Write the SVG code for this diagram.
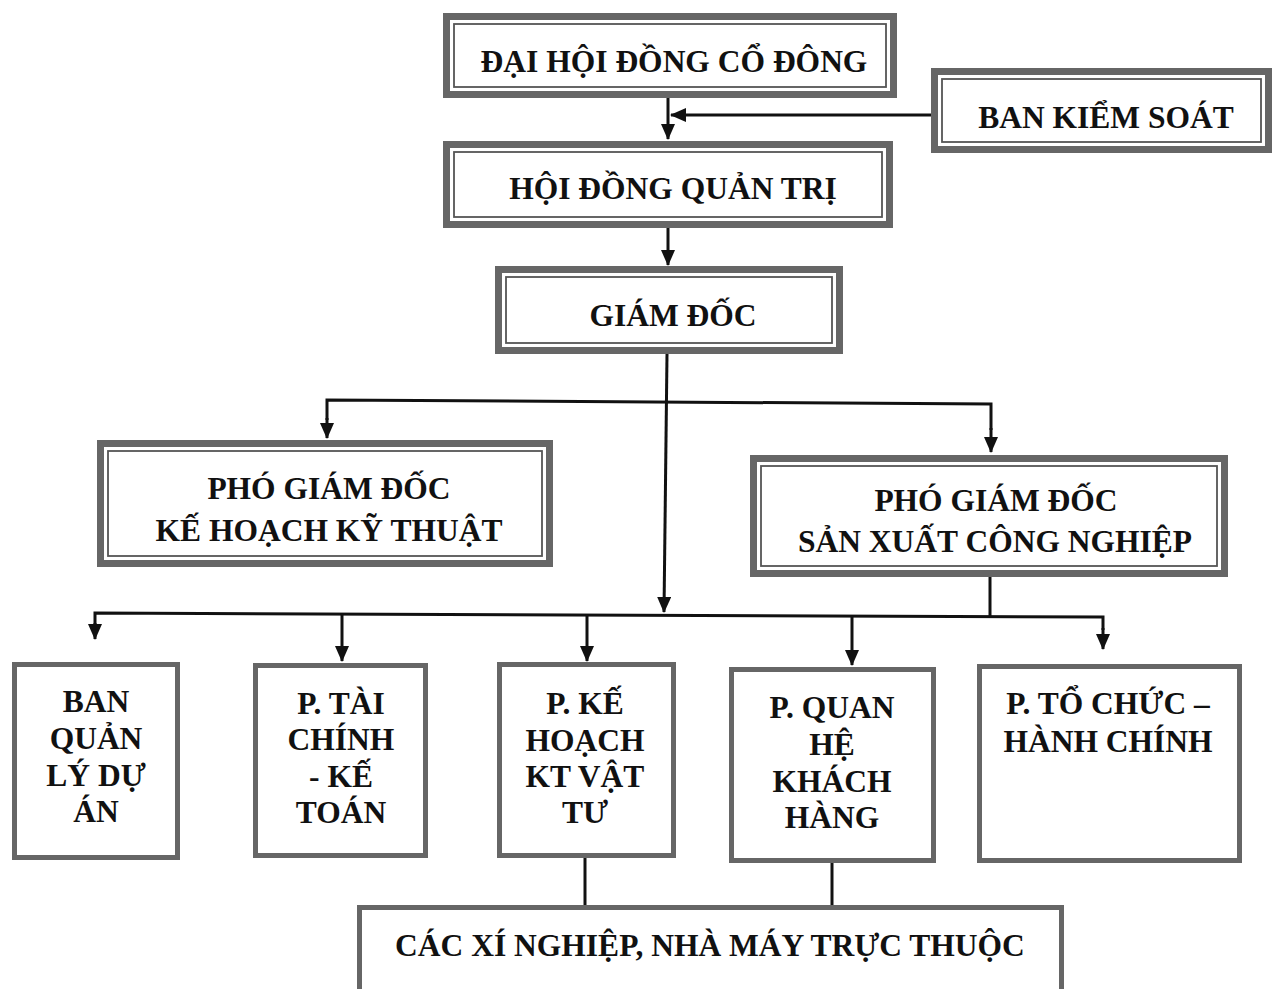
<svg xmlns="http://www.w3.org/2000/svg" width="1277" height="989" viewBox="0 0 1277 989">
<style>
.band{fill:#ffffff;stroke:#666666;stroke-width:7}
.inner{fill:none;stroke:#555555;stroke-width:1.8}
.single{fill:#ffffff;stroke:#666666;stroke-width:5}
.t{font-family:"Liberation Serif","Times New Roman",serif;font-weight:bold;font-size:31.5px;fill:#111111;text-anchor:middle}
.c{fill:none;stroke:#111111;stroke-width:3}
</style>
<defs>
<marker id="ah" viewBox="0 0 16 14" refX="15" refY="7" markerWidth="16" markerHeight="14" markerUnits="userSpaceOnUse" orient="auto">
<path d="M0,0 L16,7 L0,14 Z" fill="#111111"/>
</marker>
</defs>
<rect width="1277" height="989" fill="#ffffff"/>

<g id="connectors">
<line class="c" x1="668" y1="98" x2="668" y2="139" marker-end="url(#ah)"/>
<line class="c" x1="931" y1="115" x2="671" y2="115" marker-end="url(#ah)"/>
<line class="c" x1="668" y1="228" x2="668" y2="265" marker-end="url(#ah)"/>
<line class="c" x1="667" y1="354" x2="664" y2="612" marker-end="url(#ah)"/>
<polyline class="c" points="327,420 327,400 991,404 991,430"/>
<line class="c" x1="327" y1="418" x2="327" y2="438" marker-end="url(#ah)"/>
<line class="c" x1="991" y1="428" x2="991" y2="452" marker-end="url(#ah)"/>
<line class="c" x1="990" y1="577" x2="990" y2="616"/>
<polyline class="c" points="95,625 95,613 1103,617 1103,630"/>
<line class="c" x1="95" y1="623" x2="95" y2="639" marker-end="url(#ah)"/>
<line class="c" x1="342" y1="614" x2="342" y2="661" marker-end="url(#ah)"/>
<line class="c" x1="587" y1="615" x2="587" y2="661" marker-end="url(#ah)"/>
<line class="c" x1="852" y1="616" x2="852" y2="665" marker-end="url(#ah)"/>
<line class="c" x1="1103" y1="628" x2="1103" y2="649" marker-end="url(#ah)"/>
<line class="c" x1="585" y1="857" x2="585" y2="905"/>
<line class="c" x1="832" y1="862" x2="832" y2="905"/>
</g>

<g id="dai-hoi-dong-co-dong">
<rect class="band" x="446.5" y="16.5" width="447" height="78"/>
<rect class="inner" x="454" y="24" width="432" height="63"/>
<text class="t" x="674" y="72">ĐẠI HỘI ĐỒNG CỔ ĐÔNG</text>
</g>

<g id="ban-kiem-soat">
<rect class="band" x="934.5" y="71.5" width="334" height="78"/>
<rect class="inner" x="942" y="79" width="319" height="63"/>
<text class="t" x="1106" y="128">BAN KIỂM SOÁT</text>
</g>

<g id="hoi-dong-quan-tri">
<rect class="band" x="446.5" y="144.5" width="443" height="80"/>
<rect class="inner" x="454" y="152" width="428" height="65"/>
<text class="t" x="673" y="199">HỘI ĐỒNG QUẢN TRỊ</text>
</g>

<g id="giam-doc">
<rect class="band" x="498.5" y="269.5" width="341" height="81"/>
<rect class="inner" x="506" y="277" width="326" height="66"/>
<text class="t" x="673" y="326">GIÁM ĐỐC</text>
</g>

<g id="pho-giam-doc-ke-hoach-ky-thuat">
<rect class="band" x="100.5" y="443.5" width="449" height="120"/>
<rect class="inner" x="108" y="451" width="434" height="105"/>
<text class="t" x="329" y="499">PHÓ GIÁM ĐỐC</text>
<text class="t" x="329" y="541">KẾ HOẠCH KỸ THUẬT</text>
</g>

<g id="pho-giam-doc-san-xuat-cong-nghiep">
<rect class="band" x="753.5" y="458.5" width="471" height="115"/>
<rect class="inner" x="761" y="466" width="456" height="100"/>
<text class="t" x="996" y="511">PHÓ GIÁM ĐỐC</text>
<text class="t" x="995" y="552">SẢN XUẤT CÔNG NGHIỆP</text>
</g>

<g id="ban-quan-ly-du-an">
<rect class="single" x="14.5" y="664.5" width="163" height="193"/>
<text class="t" x="96" y="712">BAN</text>
<text class="t" x="96" y="749">QUẢN</text>
<text class="t" x="96" y="786">LÝ DỰ</text>
<text class="t" x="96" y="822">ÁN</text>
</g>

<g id="p-tai-chinh-ke-toan">
<rect class="single" x="255.5" y="665.5" width="170" height="190"/>
<text class="t" x="341" y="714">P. TÀI</text>
<text class="t" x="341" y="750">CHÍNH</text>
<text class="t" x="341" y="787">- KẾ</text>
<text class="t" x="341" y="823">TOÁN</text>
</g>

<g id="p-ke-hoach-kt-vat-tu">
<rect class="single" x="499.5" y="664.5" width="174" height="191"/>
<text class="t" x="585" y="714">P. KẾ</text>
<text class="t" x="585" y="751">HOẠCH</text>
<text class="t" x="585" y="787">KT VẬT</text>
<text class="t" x="585" y="823">TƯ</text>
</g>

<g id="p-quan-he-khach-hang">
<rect class="single" x="731.5" y="669.5" width="202" height="191"/>
<text class="t" x="832" y="718">P. QUAN</text>
<text class="t" x="832" y="755">HỆ</text>
<text class="t" x="832" y="792">KHÁCH</text>
<text class="t" x="832" y="828">HÀNG</text>
</g>

<g id="p-to-chuc-hanh-chinh">
<rect class="single" x="979.5" y="666.5" width="260" height="194"/>
<text class="t" x="1108" y="714">P. TỔ CHỨC –</text>
<text class="t" x="1108" y="752">HÀNH CHÍNH</text>
</g>

<g id="cac-xi-nghiep-nha-may-truc-thuoc">
<rect class="single" x="359.5" y="907.5" width="702" height="90"/>
<text class="t" x="710" y="956">CÁC XÍ NGHIỆP, NHÀ MÁY TRỰC THUỘC</text>
</g>
</svg>
